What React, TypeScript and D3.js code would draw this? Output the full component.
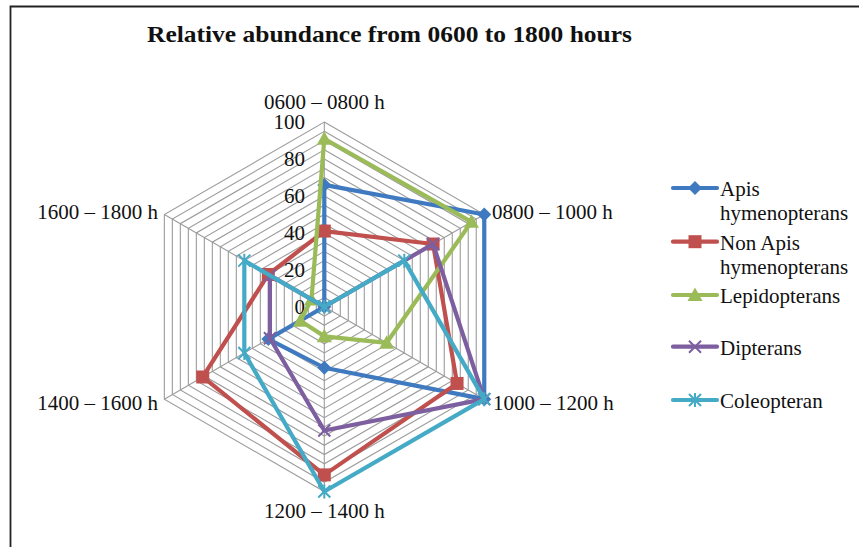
import React from "react";
import * as d3 from "d3";

const axes = ["0600 – 0800 h", "0800 – 1000 h", "1000 – 1200 h", "1200 – 1400 h", "1400 – 1600 h", "1600 – 1800 h"];
const seriesNames = ["Apis hymenopterans", "Non Apis hymenopterans", "Lepidopterans", "Dipterans", "Coleopteran"];
const apis = [66, 100, 100, 33, 35, 0];
const nonApis = [41, 68, 83, 91, 76, 35];
const lepidopterans = [91, 92, 39, 16, 15, 8];
const dipterans = [0, 68, 100, 67, 34, 34];
const coleopteran = [0, 50, 100, 100, 50, 50];
const tickValues = [0, 20, 40, 60, 80, 100];
const gridValues = d3.range(5, 101, 5);

const colors = ["#3F7AC0", "#C0504D", "#9BBB59", "#7D5FA0", "#44AAC6"];
const markers = ["diamond", "square", "triangle", "x", "star"];
const allSeries = [apis, nonApis, lepidopterans, dipterans, coleopteran];

const cx = 324.3;
const cy = 306.8;
const R = 184.7;
const font = "'Liberation Serif', 'Times New Roman', serif";

const rScale = d3.scaleLinear().domain([0, 100]).range([0, R]);
const angle = (i: number) => (i * Math.PI * 2) / 6;
const pt = (i: number, v: number): [number, number] => [
  cx + rScale(v) * Math.sin(angle(i)),
  cy - rScale(v) * Math.cos(angle(i)),
];

function Marker({ type, x, y, color }: { type: string; x: number; y: number; color: string }) {
  if (type === "diamond") {
    const s = 7;
    return <path d={`M${x},${y - s}L${x + s},${y}L${x},${y + s}L${x - s},${y}Z`} fill={color} />;
  }
  if (type === "square") {
    const s = 6.5;
    return <rect x={x - s} y={y - s} width={2 * s} height={2 * s} fill={color} />;
  }
  if (type === "triangle") {
    const s = 7.5;
    return <path d={`M${x},${y - s}L${x + s},${y + s * 0.8}L${x - s},${y + s * 0.8}Z`} fill={color} />;
  }
  if (type === "x") {
    const s = 6;
    return (
      <path d={`M${x - s},${y - s}L${x + s},${y + s}M${x - s},${y + s}L${x + s},${y - s}`} stroke={color} strokeWidth={2} />
    );
  }
  const s = 6;
  return (
    <path
      d={`M${x - s},${y - s}L${x + s},${y + s}M${x - s},${y + s}L${x + s},${y - s}M${x},${y - s - 1}L${x},${y + s + 1}`}
      stroke={color}
      strokeWidth={2}
    />
  );
}

export default function App() {
  const line = d3.line<[number, number]>().curve(d3.curveLinearClosed);
  const gridPath = (v: number) => line(axes.map((_, i) => pt(i, v))) || "";

  const labelPos: { x: number; y: number; anchor: string }[] = [
    { x: cx, y: 109, anchor: "middle" },
    { x: 492, y: 219, anchor: "start" },
    { x: 493, y: 410, anchor: "start" },
    { x: cx, y: 518, anchor: "middle" },
    { x: 158, y: 410, anchor: "end" },
    { x: 158, y: 219, anchor: "end" },
  ];

  const legendY = [188, 241.7, 295, 346.7, 400];
  const legendLines: string[][] = [
    ["Apis", "hymenopterans"],
    ["Non Apis", "hymenopterans"],
    ["Lepidopterans"],
    ["Dipterans"],
    ["Coleopteran"],
  ];

  return (
    <svg width={859} height={547} style={{ position: "absolute", left: 0, top: 0, background: "#fff" }}>
      <rect x={0} y={0} width={859} height={547} fill="#fff" />
      <path d="M10.5,560L10.5,6.5L870,6.5" fill="none" stroke="#222" strokeWidth={1.8} />
      <text x={389.5} y={42} textAnchor="middle" fontFamily={font} fontWeight="bold" fontSize={24} textLength={485} lengthAdjust="spacingAndGlyphs" fill="#111">
        Relative abundance from 0600 to 1800 hours
      </text>
      <g>
        {gridValues.map((v) => (
          <path key={v} d={gridPath(v)} fill="none" stroke="#9c9c9c" strokeWidth={1.1} />
        ))}
        {axes.map((_, i) => {
          const [x, y] = pt(i, 100);
          return <line key={i} x1={cx} y1={cy} x2={x} y2={y} stroke="#9c9c9c" strokeWidth={1.1} />;
        })}
      </g>
      {tickValues.map((v) => (
        <text key={v} x={305} y={cy - rScale(v) + 7} textAnchor="end" fontFamily={font} fontSize={21} fill="#111">
          {v}
        </text>
      ))}
      {axes.map((a, i) => (
        <text key={a} x={labelPos[i].x} y={labelPos[i].y} textAnchor={labelPos[i].anchor as any} fontFamily={font} fontSize={21} fill="#111">
          {a}
        </text>
      ))}
      {allSeries.map((s, si) => (
        <g key={si}>
          <path d={line(s.map((v, i) => pt(i, v))) || ""} fill="none" stroke={colors[si]} strokeWidth={4.2} strokeLinejoin="round" />
          {s.map((v, i) => {
            const [x, y] = pt(i, v);
            return <Marker key={i} type={markers[si]} x={x} y={y} color={colors[si]} />;
          })}
        </g>
      ))}
      {seriesNames.map((n, si) => (
        <g key={n}>
          <line x1={673} x2={717} y1={legendY[si]} y2={legendY[si]} stroke={colors[si]} strokeWidth={4.2} strokeLinecap="round" />
          <Marker type={markers[si]} x={695} y={legendY[si]} color={colors[si]} />
          {legendLines[si].map((t, li) => (
            <text key={li} x={720} y={legendY[si] + 8 + li * 24} fontFamily={font} fontSize={21} fill="#111">
              {t}
            </text>
          ))}
        </g>
      ))}
    </svg>
  );
}
